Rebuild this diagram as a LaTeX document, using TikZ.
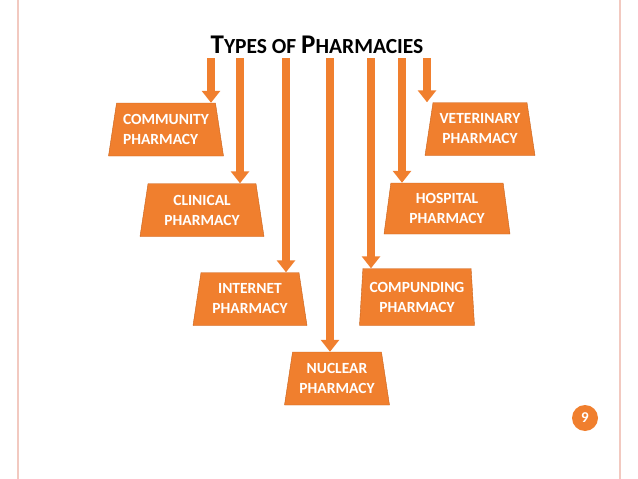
\documentclass[tikz,border=0pt]{standalone}
\usepackage{fontspec}
\setmainfont{Carlito}
\usetikzlibrary{shapes.geometric,arrows.meta}
\definecolor{slideorange}{HTML}{F07F2E}
\definecolor{edgeorange}{HTML}{C8621C}
\definecolor{borderpink}{HTML}{F2C9C0}

\tikzset{
  pharmbox/.style={trapezium, trapezium left angle=76, trapezium right angle=76,
    fill=slideorange, draw=edgeorange, text=white, font=\bfseries\fontsize{15.5}{20}\selectfont,
    align=center, inner sep=1pt, minimum height=53pt, trapezium stretches body},
  feedarrow/.style={-{Triangle[width=18pt,length=12pt]}, line width=8pt, draw=slideorange},
}

\begin{document}
\begin{tikzpicture}[x=1pt,y=-1pt]
    % Slide frame
    \useasboundingbox (0,0) rectangle (638,479);
    \draw[borderpink, line width=1.2pt] (18,0) -- (18,479);
    \draw[borderpink, line width=1.2pt] (620,0) -- (620,479);

    % Title
    \node (title) at (317,45) {\bfseries\fontsize{27}{30}\selectfont T\fontsize{21.5}{24}\selectfont YPES OF \fontsize{27}{30}\selectfont P\fontsize{21.5}{24}\selectfont HARMACIES};

    % Pharmacy boxes
    \node[pharmbox, minimum width=115pt, align=left] (community) at (166,129.5) {COMMUNITY\\PHARMACY};
    \node[pharmbox, minimum width=124pt] (clinical) at (202,210) {CLINICAL\\PHARMACY};
    \node[pharmbox, minimum width=114pt] (internet) at (250,299) {INTERNET\\PHARMACY};
    \node[pharmbox, minimum width=105pt] (nuclear) at (337,378.5) {NUCLEAR\\PHARMACY};
    \node[pharmbox, minimum width=115pt, minimum height=57pt, trapezium left angle=84, trapezium right angle=84] (compunding) at (417,297) {COMPUNDING\\PHARMACY};
    \node[pharmbox, minimum width=126pt, minimum height=51pt, trapezium left angle=78, trapezium right angle=78] (hospital) at (447,208.5) {HOSPITAL\\PHARMACY};
    \node[pharmbox, minimum width=110pt] (veterinary) at (480,129) {VETERINARY\\PHARMACY};

    % Arrow starts
    \foreach \name/\xpos in {community/211, clinical/240, internet/286, nuclear/330,
                             compunding/371, hospital/402, veterinary/427}{
        \coordinate (\name-start) at (\xpos,58);
        \draw[feedarrow] (\name-start) -- (\name-start |- \name.north);
    }

    % Page number
    \node[circle, fill=slideorange, minimum size=26pt, inner sep=0pt, text=white,
          font=\bfseries\fontsize{15}{18}\selectfont] (pagenum) at (585,418) {9};
\end{tikzpicture}
\end{document}
